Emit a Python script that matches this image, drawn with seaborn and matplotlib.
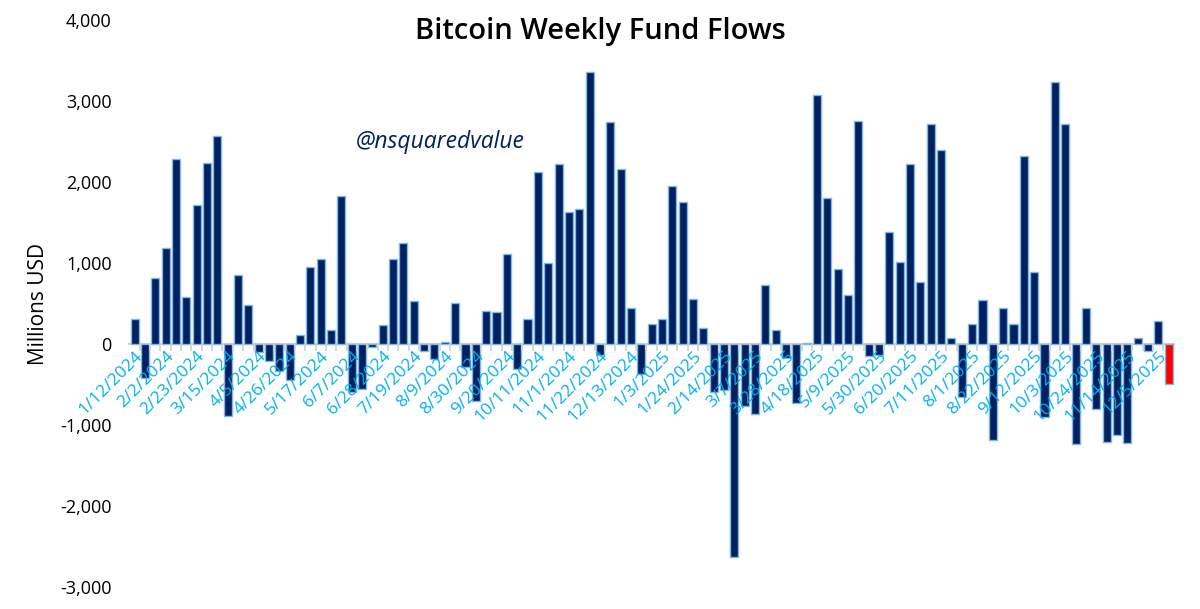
import pandas as pd
import matplotlib.pyplot as plt
import matplotlib.ticker as mticker
import seaborn as sns

# weekly bitcoin fund flows, millions USD
flows = [
    315, -417, 817, 1188, 2286, 583, 1722, 2237, 2570, -891,
    854, 479, -96, -212, -335, -438, 117, 953, 1055, 171,
    1833, -590, -549, -35, 232, 1052, 1249, 537, -89, -179,
    27, 508, -282, -706, 409, 397, 1113, -307, 311, 2126,
    1002, 2220, 1632, 1669, 3356, -134, 2739, 2167, 451, -370,
    249, 311, 1957, 1759, 558, 200, -590, -562, -2627, -768,
    -858, 735, 179, -171, -726, 15, 3072, 1805, 928, 607,
    2751, -146, -138, 1389, 1018, 2225, 763, 2718, 2397, 72,
    -652, 253, 549, -1179, 442, 253, 2327, 887, -899, 3237,
    2718, -1228, 442, -800, -1207, -1117, -1220, 72, -89, 286,
    -488,
]
weeks = pd.date_range('2024-01-12', periods=len(flows), freq='7D')
week_labels = [f'{d.month}/{d.day}/{d.year}' for d in weeks]

# every third week gets a label
tick_labels = [
    '1/12/2024', '2/2/2024', '2/23/2024', '3/15/2024', '4/5/2024', '4/26/2024',
    '5/17/2024', '6/7/2024', '6/28/2024', '7/19/2024', '8/9/2024', '8/30/2024',
    '9/20/2024', '10/11/2024', '11/1/2024', '11/22/2024', '12/13/2024', '1/3/2025',
    '1/24/2025', '2/14/2025', '3/7/2025', '3/28/2025', '4/18/2025', '5/9/2025',
    '5/30/2025', '6/20/2025', '7/11/2025', '8/1/2025', '8/22/2025', '9/12/2025',
    '10/3/2025', '10/24/2025', '11/14/2025', '12/5/2025',
]

df = pd.DataFrame({'week': week_labels, 'flow': flows})

sns.set_style('white')
plt.rcParams['font.family'] = ['Open Sans', 'DejaVu Sans']
plt.rcParams['text.color'] = 'black'
plt.rcParams['axes.labelcolor'] = 'black'

navy = '#002060'
fig = plt.figure(figsize=(12, 6.09), dpi=100)
ax = fig.add_axes([0.107, 0.036, 0.872, 0.931])

sns.barplot(data=df, x='week', y='flow', color=navy, saturation=1,
            width=0.78, edgecolor='#7FB8E6', linewidth=1, ax=ax, zorder=2)
ax.patches[-1].set_facecolor('#FF0000')

ax.axhline(0, color='#D0D0D0', lw=1.5, zorder=1)
ax.set_axisbelow(False)  # date labels sit on top of the negative bars

ax.set_ylim(-3000, 4000)
ax.set_xlim(-0.6, len(flows) - 0.4)
ax.yaxis.set_major_locator(mticker.MultipleLocator(1000))
ax.yaxis.set_major_formatter(mticker.FuncFormatter(lambda v, p: f'{v:,.0f}'))
ax.tick_params(axis='y', labelsize=13, length=0, pad=12, labelcolor='black')
ax.set_ylabel('Millions USD', fontsize=15, labelpad=8)
ax.set_xlabel('')

# labelled ticks every 3 weeks, grey boundary ticks between bars
pos = [week_labels.index(t) for t in tick_labels]
ax.spines['bottom'].set_position(('data', 0))
sns.despine(ax=ax, left=True, bottom=True)
ax.set_xticks(pos)
ax.set_xticklabels(tick_labels)
ax.set_xticks([i + 0.5 for i in range(len(flows) - 1)], minor=True)
ax.tick_params(axis='x', which='major', length=0, pad=3, labelsize=12.5,
               labelcolor='#00B0F0', labelrotation=45, bottom=True)
ax.tick_params(axis='x', which='minor', length=5, color='#D0D0D0', width=1.2,
               bottom=True)
for lab in ax.get_xticklabels():
    lab.set_ha('right')
    lab.set_va('top')
    lab.set_rotation_mode('anchor')

fig.text(0.5, 1 - 32 / 609, 'Bitcoin Weekly Fund Flows',
         ha='center', va='center', fontsize=21, fontweight='semibold', color='black')
fig.text(440 / 1200, 1 - 142 / 609, '@nsquaredvalue', ha='center', va='center',
         fontsize=16.5, style='italic', color=navy)

fig.savefig('out.png', dpi=100)
